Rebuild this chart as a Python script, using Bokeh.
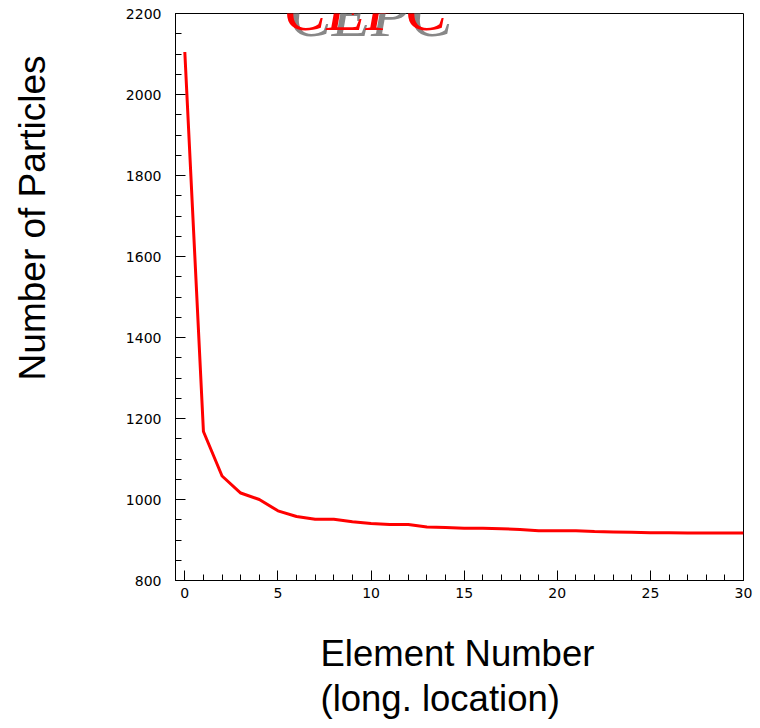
from bokeh.plotting import figure
from bokeh.models import Label, SingleIntervalTicker, Range1d, Title
from bokeh.embed import file_html
from bokeh.resources import INLINE

element = list(range(31))
particles = [2105, 1168, 1058, 1016, 1000, 972, 958, 951, 951, 945,
             941, 938, 938, 932, 931, 929, 929, 928, 926, 923,
             923, 923, 921, 920, 919, 918, 918, 917, 917, 917, 917]

title_text = "CEPC"
x_label = "Element Number\n(long. location)"
y_label = "Number of Particles"

p = figure(width=760, height=728, output_backend="svg", toolbar_location=None,
           x_range=Range1d(-0.5, 30), y_range=Range1d(800, 2200),
           min_border_left=175, min_border_right=17, min_border_top=13,
           min_border_bottom=148)

p.line(element, particles, line_color="#ff0000", line_width=3)

p.xgrid.visible = False
p.ygrid.visible = False
p.outline_line_color = "black"
p.outline_line_width = 1
p.background_fill_color = "white"
p.border_fill_color = "white"

for ax, interval, nminor in ((p.xaxis[0], 5, 5), (p.yaxis[0], 200, 4)):
    ax.ticker = SingleIntervalTicker(interval=interval, num_minor_ticks=nminor)
    ax.major_tick_in = 10
    ax.major_tick_out = 0
    ax.minor_tick_in = 6
    ax.minor_tick_out = 0
    ax.axis_line_color = "black"
    ax.major_tick_line_color = "black"
    ax.minor_tick_line_color = "black"
    ax.major_label_text_font = "DejaVu Sans"
    ax.major_label_text_font_size = "14px"
    ax.major_label_text_color = "black"

p.xaxis.major_label_standoff = 7
p.yaxis.major_label_standoff = 14


def spacer(gap):
    # an empty side title that only reserves space next to the axis
    return Title(text=" ", text_font_size="1px", standoff=gap,
                 text_color="white")


# left: spacer, then the axis title
p.add_layout(spacer(59), "left")
p.add_layout(Title(text=y_label, align="right", offset=42, standoff=16,
                   text_font="Liberation Sans", text_font_size="37px",
                   text_font_style="normal", text_color="black"), "left")
# below: spacer, then the two-line axis title
p.add_layout(spacer(20), "below")
p.add_layout(Title(text=x_label, align="left", offset=145, standoff=16,
                   text_font="Liberation Sans", text_font_size="36.5px",
                   text_font_style="normal", text_color="black",
                   text_line_height=1.1), "below")

# title with shadow, partially cut off at top (data units just above the frame)
p.add_layout(Label(x=5.6, y=2197, text=title_text, text_align="left",
                   text_baseline="alphabetic",
                   text_font="Liberation Serif", text_font_style="italic",
                   text_font_size="64px", text_color="#888888"))
p.add_layout(Label(x=5.3, y=2212, text=title_text, text_align="left",
                   text_baseline="alphabetic",
                   text_font="Liberation Serif", text_font_style="italic",
                   text_font_size="64px", text_color="#ff0000"))

open("out.html", "w").write(file_html(p, INLINE))
